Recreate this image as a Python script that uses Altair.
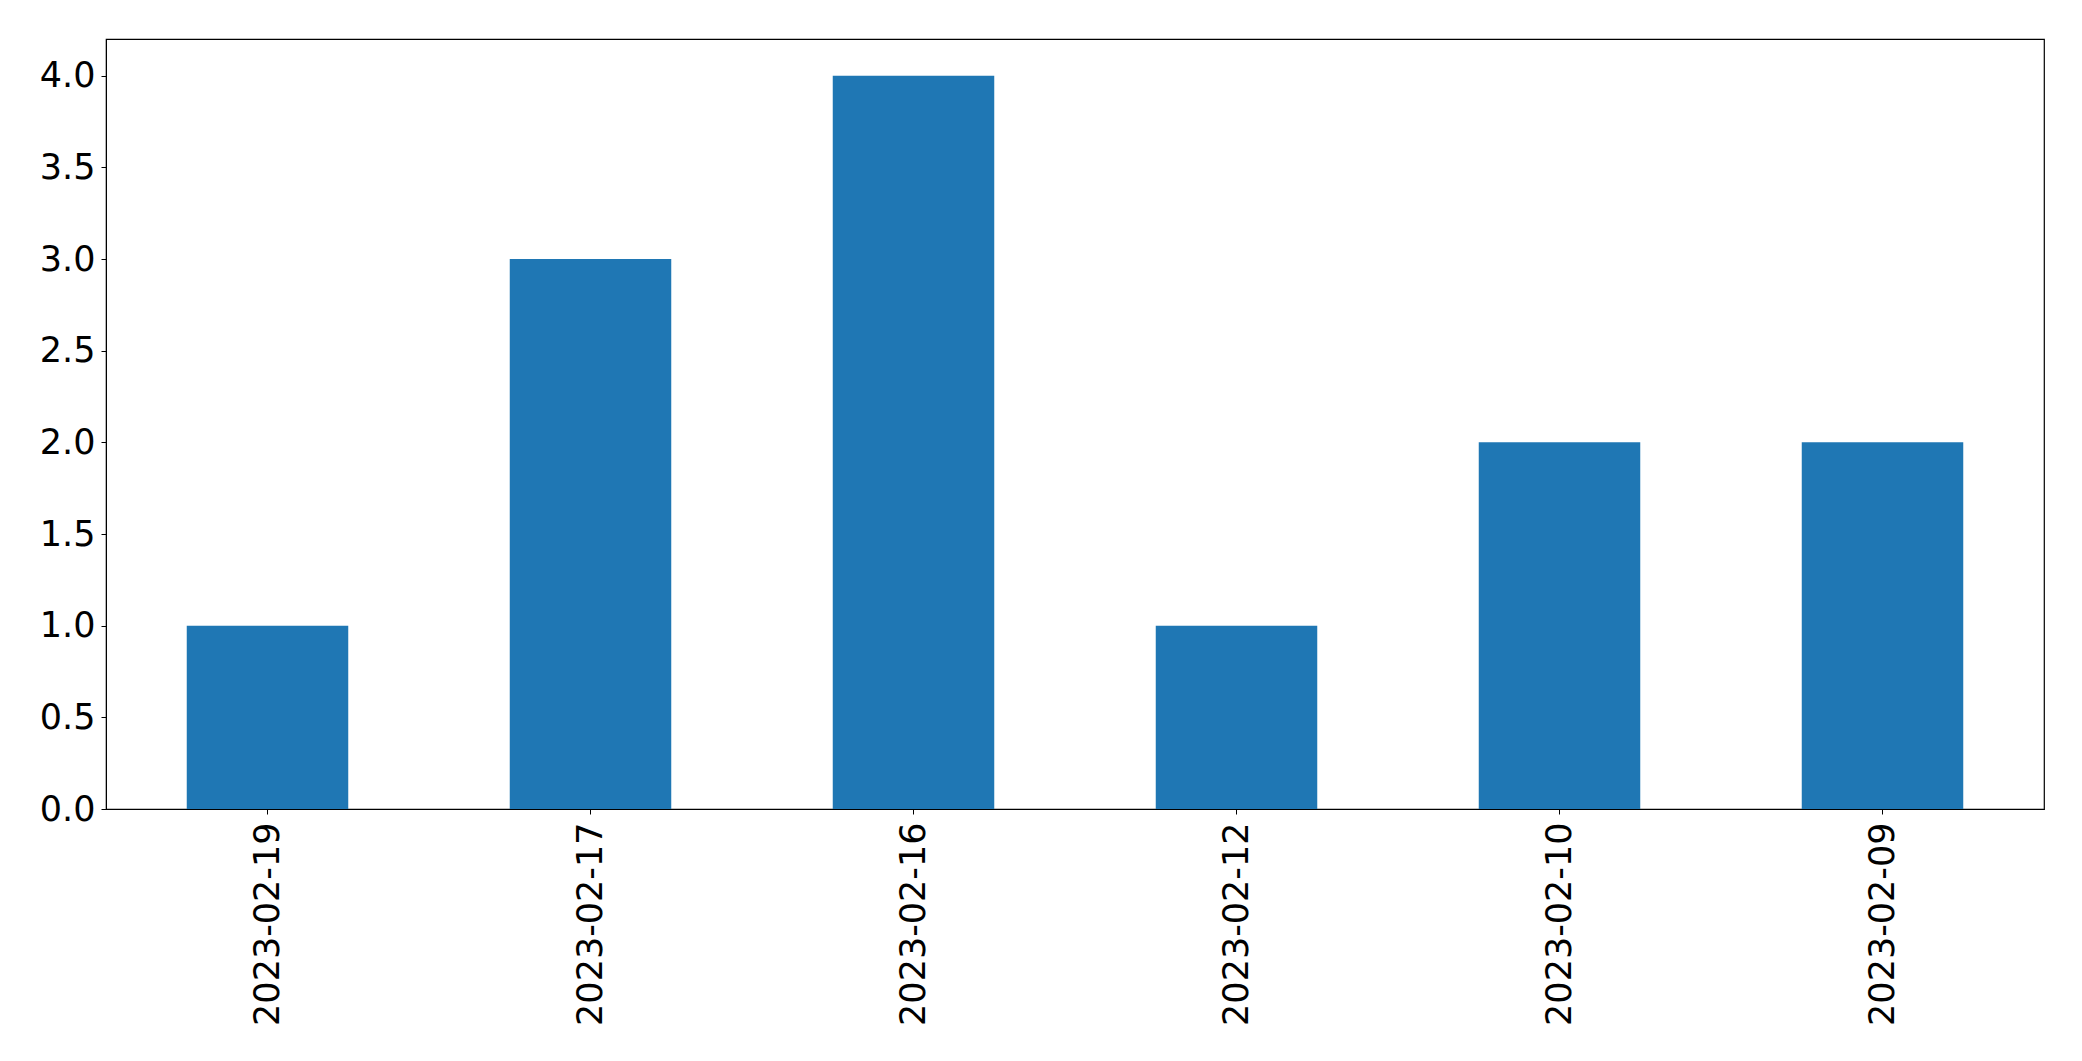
import altair as alt
import pandas as pd

dates = ["2023-02-19", "2023-02-17", "2023-02-16", "2023-02-12", "2023-02-10", "2023-02-09"]
counts = [1, 3, 4, 1, 2, 2]
y_ticks = [0.0, 0.5, 1.0, 1.5, 2.0, 2.5, 3.0, 3.5, 4.0]

df = pd.DataFrame({"date": dates, "count": counts})

chart = alt.Chart(df).mark_bar(color="#1f77b4").encode(
    x=alt.X("date:N", sort=dates, title=None,
            scale=alt.Scale(paddingInner=0.5, paddingOuter=0.25),
            axis=alt.Axis(labelAngle=-90, labelFontSize=35, labelFont="DejaVu Sans",
                          labelColor="black", tickColor="black", domainColor="black",
                          tickSize=5, labelPadding=8, labelAlign="right", labelBaseline="middle",
                          labelLimit=0)),
    y=alt.Y("count:Q", title=None,
            scale=alt.Scale(domain=[0, 4.2], nice=False),
            axis=alt.Axis(values=y_ticks, format=".1f", grid=False, labelFontSize=35,
                          labelFont="DejaVu Sans", labelColor="black", tickColor="black",
                          domainColor="black", tickSize=5, labelPadding=6)),
).properties(
    width=1938, height=770,
    padding={"left": 31, "top": 31, "right": 5, "bottom": 5},
).configure_view(
    stroke="black", strokeWidth=1.2
)

chart.save("out.html", embed_options={"renderer": "svg", "actions": False})
